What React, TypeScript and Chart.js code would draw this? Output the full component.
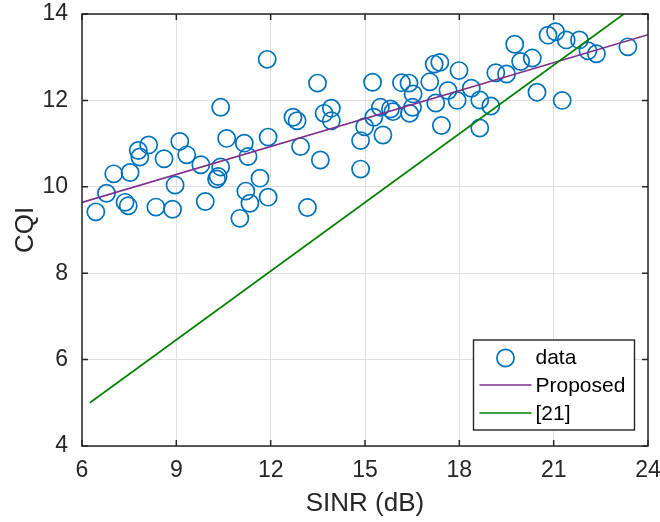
import React, { useEffect, useRef } from 'react';
import { Chart, registerables } from 'chart.js';

Chart.register(...registerables);

// ---- data ----
const sinr = [
  11.89, 10.41, 9.11, 8.12, 7.79, 7.84, 8.61, 9.33, 10.6, 11.16, 11.28, 11.92, 7.01, 7.53, 9.78, 10.41,
  10.33, 10.28, 8.96, 11.66, 6.78, 7.37, 7.47, 6.44, 8.35, 8.88, 9.92, 11.21, 11.34, 11.92, 11.02,
  13.49, 12.71, 12.84, 12.95, 13.58, 13.17, 13.7, 13.93, 13.93, 15.24, 14.99, 14.86, 15.57, 14.86, 15.28,
  15.49, 15.81, 15.89, 16.16, 16.4, 16.53, 16.51, 16.42, 17.06, 17.2, 17.38, 17.25, 17.43, 17.64, 17.93,
  17.99, 23.36, 22.36, 22.09, 21.82, 21.4, 21.06, 20.82, 21.27, 20.47, 20.32, 19.95, 19.76, 19.5, 19.16,
  18.38, 18.65, 19.0, 18.65,
];
const cqi = [
  12.95, 11.84, 11.05, 10.97, 10.84, 10.69, 10.65, 10.74, 11.12, 11.01, 10.7, 11.15, 10.3, 10.33, 10.51, 10.46,
  10.24, 10.18, 10.04, 10.2, 9.85, 9.64, 9.56, 9.42, 9.53, 9.48, 9.66, 9.9, 9.62, 9.76, 9.27,
  12.4, 11.61, 11.53, 10.93, 10.62, 9.52, 11.7, 11.82, 11.53, 12.42, 11.39, 11.07, 11.2, 10.41, 11.61,
  11.84, 11.8, 11.74, 12.41, 12.4, 12.15, 11.84, 11.7, 12.43, 12.84, 12.88, 11.94, 11.42, 12.23, 12.0,
  12.69, 13.24, 13.08, 13.15, 13.4, 13.4, 13.59, 13.51, 12.0, 12.19, 12.98, 12.9, 13.3, 12.61, 12.64,
  12.28, 12.01, 11.87, 11.36,
];
const proposedX = [6, 24];
const proposedY = [9.64, 13.52];
const ref21X = [6.25, 23.23];
const ref21Y = [5.0, 14.0];
const xTicks = [6, 9, 12, 15, 18, 21, 24];
const yTicks = [4, 6, 8, 10, 12, 14];
const seriesNames = ['data', 'Proposed', '[21]'];
const xTitle = 'SINR (dB)';
const yTitle = 'CQI';

const FONT = "'Liberation Sans', Arial, Helvetica, sans-serif";
const AXIS_COLOR = '#262626';
const BLUE = '#0072BD';
const PURPLE = '#7E2F8E';
const GREEN = '#008000';

const boxPlugin = {
  id: 'matlabBox',
  afterDatasetsDraw(chart: any) {
    const { ctx, chartArea: a, scales } = chart;
    ctx.save();
    ctx.strokeStyle = AXIS_COLOR;
    ctx.lineWidth = 1.5;
    const tl = 6;
    ctx.beginPath();
    for (const v of xTicks) {
      const px = scales.x.getPixelForValue(v);
      ctx.moveTo(px, a.bottom);
      ctx.lineTo(px, a.bottom - tl);
      ctx.moveTo(px, a.top);
      ctx.lineTo(px, a.top + tl);
    }
    for (const v of yTicks) {
      const py = scales.y.getPixelForValue(v);
      ctx.moveTo(a.left, py);
      ctx.lineTo(a.left + tl, py);
      ctx.moveTo(a.right, py);
      ctx.lineTo(a.right - tl, py);
    }
    ctx.stroke();
    ctx.strokeRect(a.left, a.top, a.right - a.left, a.bottom - a.top);
    ctx.restore();
  },
  afterDraw(chart: any) {
    const { ctx, chartArea: a } = chart;
    const w = 161;
    const h = 90;
    const left = a.right - 174.5;
    const top = a.bottom - 106;
    ctx.save();
    ctx.fillStyle = '#ffffff';
    ctx.fillRect(left, top, w, h);
    ctx.strokeStyle = AXIS_COLOR;
    ctx.lineWidth = 1.4;
    ctx.strokeRect(left, top, w, h);
    const rows = [18, 46, 74];
    const dsets = chart.data.datasets;
    // data marker
    ctx.beginPath();
    ctx.strokeStyle = dsets[0].borderColor;
    ctx.lineWidth = dsets[0].borderWidth;
    ctx.arc(left + 32, top + rows[0], dsets[0].pointRadius, 0, Math.PI * 2);
    ctx.stroke();
    for (let i = 1; i < 3; i++) {
      ctx.beginPath();
      ctx.strokeStyle = dsets[i].borderColor;
      ctx.lineWidth = dsets[i].borderWidth;
      ctx.moveTo(left + 6, top + rows[i] - 1);
      ctx.lineTo(left + 58, top + rows[i] - 1);
      ctx.stroke();
    }
    ctx.fillStyle = '#000000';
    ctx.font = `21px ${FONT}`;
    ctx.textBaseline = 'middle';
    ctx.textAlign = 'left';
    for (let i = 0; i < 3; i++) {
      ctx.fillText(seriesNames[i], left + 62, top + rows[i]);
    }
    ctx.restore();
  },
};

export default function App() {
  const ref = useRef<HTMLCanvasElement | null>(null);
  useEffect(() => {
    if (!ref.current) return;
    const chart = new Chart(ref.current, {
      type: 'scatter',
      data: {
        datasets: [
          {
            label: seriesNames[0],
            data: sinr.map((x, i) => ({ x, y: cqi[i] })),
            showLine: false,
            pointStyle: 'circle',
            pointRadius: 8.6,
            pointBorderWidth: 1.7,
            borderWidth: 1.7,
            borderColor: BLUE,
            pointBorderColor: BLUE,
            backgroundColor: 'rgba(0,0,0,0)',
            pointBackgroundColor: 'rgba(0,0,0,0)',
            order: 3,
          } as any,
          {
            label: seriesNames[1],
            data: proposedX.map((x, i) => ({ x, y: proposedY[i] })),
            showLine: true,
            pointRadius: 0,
            borderColor: PURPLE,
            borderWidth: 1.7,
            backgroundColor: PURPLE,
            order: 2,
          } as any,
          {
            label: seriesNames[2],
            data: ref21X.map((x, i) => ({ x, y: ref21Y[i] })),
            showLine: true,
            pointRadius: 0,
            borderColor: GREEN,
            borderWidth: 1.7,
            backgroundColor: GREEN,
            order: 1,
          } as any,
        ],
      },
      options: {
        animation: false,
        responsive: false,
        maintainAspectRatio: false,
        devicePixelRatio: 1,
        layout: { padding: { top: 14, right: 12, left: 0, bottom: 0 } },
        plugins: { legend: { display: false }, tooltip: { enabled: false } },
        scales: {
          x: {
            type: 'linear',
            min: 6,
            max: 24,
            afterBuildTicks: (s: any) => {
              s.ticks = xTicks.map((v) => ({ value: v }));
            },
            afterFit: (s: any) => {
              s.height = 76;
              s.paddingLeft = 0;
              s.paddingRight = 0;
            },
            border: { display: false },
            grid: { color: '#dfdfdf', lineWidth: 1, drawTicks: false },
            ticks: {
              padding: 11,
              color: AXIS_COLOR,
              font: { family: FONT, size: 23 },
              maxRotation: 0,
              autoSkip: false,
            },
            title: {
              display: true,
              text: xTitle,
              color: AXIS_COLOR,
              font: { family: FONT, size: 26 },
              padding: { top: 0, bottom: 3 },
            },
          },
          y: {
            type: 'linear',
            min: 4,
            max: 14,
            afterBuildTicks: (s: any) => {
              s.ticks = yTicks.map((v) => ({ value: v }));
            },
            afterFit: (s: any) => {
              s.width = 82;
              s.paddingTop = 0;
              s.paddingBottom = 0;
            },
            border: { display: false },
            grid: { color: '#dfdfdf', lineWidth: 1, drawTicks: false },
            ticks: {
              padding: 14,
              color: AXIS_COLOR,
              font: { family: FONT, size: 23 },
              autoSkip: false,
            },
            title: {
              display: true,
              text: yTitle,
              color: AXIS_COLOR,
              font: { family: FONT, size: 26 },
              padding: { top: 10, bottom: 0 },
            },
          },
        },
      } as any,
      plugins: [boxPlugin],
    });
    return () => chart.destroy();
  }, []);
  return (
    <div style={{ position: 'fixed', left: 0, top: 0, width: 660, height: 522, background: '#ffffff' }}>
      <canvas ref={ref} width={660} height={522} style={{ width: 660, height: 522, display: 'block' }} />
    </div>
  );
}
